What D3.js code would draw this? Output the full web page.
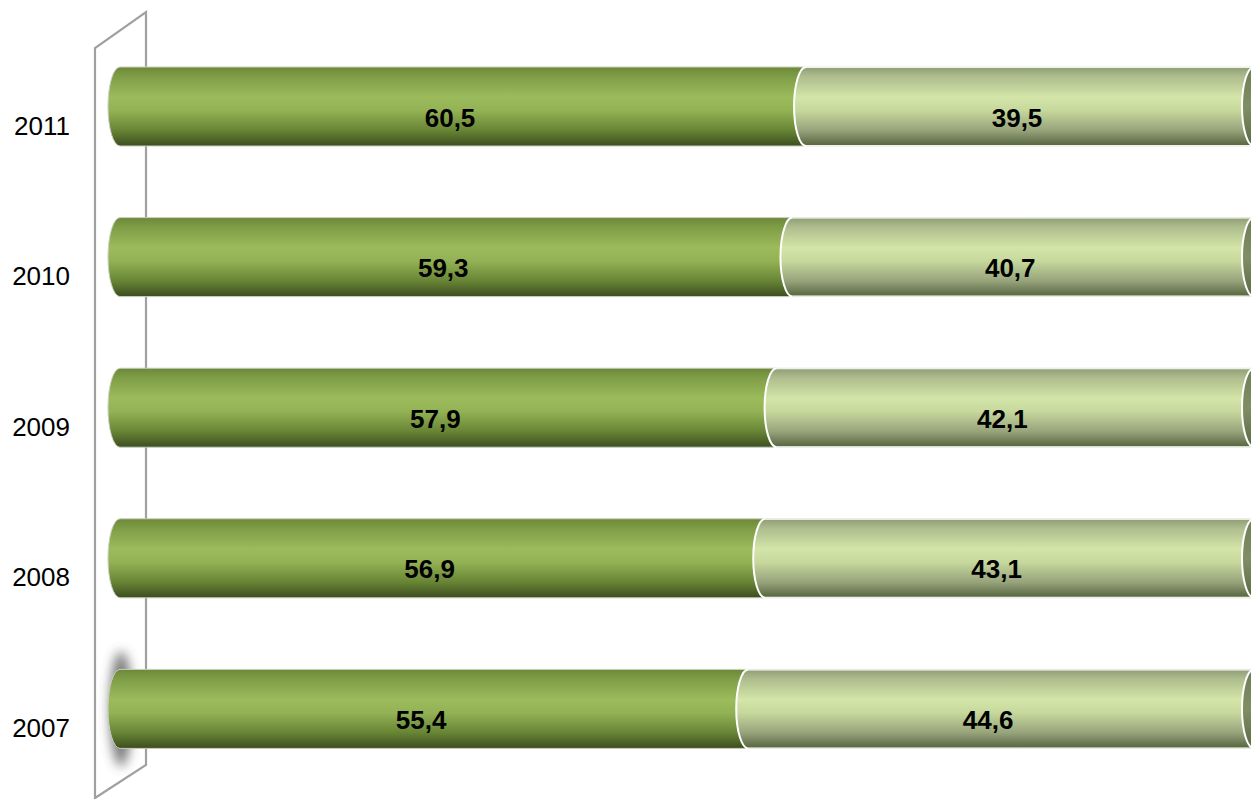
<!DOCTYPE html>
<html><head><meta charset="utf-8">
<script src="https://cdn.jsdelivr.net/npm/d3@7"></script>
<style>html,body{margin:0;padding:0;background:#fff;overflow:hidden}</style>
</head><body>
<svg id="c" width="1251" height="799"></svg>
<script>
const years = ["2011", "2010", "2009", "2008", "2007"];
const seriesA = [60.5, 59.3, 57.9, 56.9, 55.4];
const seriesB = [39.5, 40.7, 42.1, 43.1, 44.6];

const svg = d3.select("#c");
const defs = svg.append("defs");

function grad(id, stops) {
  const g = defs.append("linearGradient").attr("id", id).attr("x1", 0).attr("y1", 0).attr("x2", 0).attr("y2", 1);
  stops.forEach(s => g.append("stop").attr("offset", s[0]).attr("stop-color", s[1]));
}
grad("gA", [[0, "#6c8839"], [0.12, "#7f9d46"], [0.38, "#9cbb5c"], [0.55, "#93b255"], [0.8, "#688535"], [1, "#3c4d20"]]);
grad("gB", [[0, "#8f9c76"], [0.12, "#aebd8d"], [0.38, "#d3e5a8"], [0.55, "#c6d89c"], [0.8, "#97a47c"], [1, "#55633e"]]);
grad("gC", [[0, "#6f7e55"], [0.5, "#7f8f64"], [1, "#5c6a44"]]);
const blur = defs.append("filter").attr("id", "blur").attr("x", "-150%").attr("y", "-50%").attr("width", "400%").attr("height", "200%");
blur.append("feGaussianBlur").attr("stdDeviation", 6);

const x = d3.scaleLinear().domain([0, 100]).range([120, 1254]);
const y = d3.scaleBand().domain(years).range([67, 748.4]).paddingInner(0.4754).paddingOuter(0);
const bw = y.bandwidth();
const rx = 12;

// wall (back plane)
const wall = svg.append("g").attr("fill", "none").attr("stroke", "#a0a0a0").attr("stroke-width", 2.2);
wall.append("path").attr("d", "M95,800 L95,48 L146,12 L146,765 L95,798");

// shadow near bottom bar
svg.append("ellipse").attr("cx", 121).attr("cy", y("2007") + bw / 2).attr("rx", 11).attr("ry", bw / 2 + 18)
  .attr("fill", "#444").attr("opacity", 0.75).attr("filter", "url(#blur)");

function seg(x0, x1, top, h) {
  const b = top + h;
  return `M${x0},${top} L${x1},${top} L${x1},${b} L${x0},${b} A${rx},${h / 2} 0 0 1 ${x0},${top} Z`;
}

const fmt = v => d3.format(".1f")(v).replace(".", ",");
const rows = svg.append("g");
years.forEach((yr, i) => {
  const top = y(yr);
  const a = seriesA[i], bVal = seriesB[i];
  const g = rows.append("g");
  g.append("path").attr("d", seg(x(0), x(a) + 1, top, bw)).attr("fill", "url(#gA)")
    .attr("stroke", "#c9cfbf").attr("stroke-width", 1);
  g.append("path").attr("d", seg(x(a), x(a + bVal) + 1, top, bw)).attr("fill", "url(#gB)")
    .attr("stroke", "#ffffff").attr("stroke-width", 2);
  const xe = x(a + bVal);
  g.append("ellipse").attr("cx", xe).attr("cy", top + bw / 2).attr("rx", rx).attr("ry", bw / 2)
    .attr("fill", "url(#gC)").attr("stroke", "#ffffff").attr("stroke-width", 2);
  g.append("line").attr("x1", x(a)).attr("x2", xe).attr("y1", top).attr("y2", top).attr("stroke", "#e4e8dc").attr("stroke-width", 1);
  g.append("line").attr("x1", x(a)).attr("x2", xe).attr("y1", top + bw).attr("y2", top + bw).attr("stroke", "#e4e8dc").attr("stroke-width", 1);

  g.append("text").attr("x", (x(0) + x(a)) / 2 - 13).attr("y", top + bw / 2 + 20)
    .attr("text-anchor", "middle").attr("font-family", "Liberation Sans, Arial, sans-serif")
    .attr("font-weight", "bold").attr("font-size", 26).attr("fill", "#000").text(fmt(a));
  g.append("text").attr("x", (x(a) + x(a + bVal)) / 2 - 13).attr("y", top + bw / 2 + 20)
    .attr("text-anchor", "middle").attr("font-family", "Liberation Sans, Arial, sans-serif")
    .attr("font-weight", "bold").attr("font-size", 26).attr("fill", "#000").text(fmt(bVal));
});

// year labels
svg.append("g").selectAll("text").data(years).join("text")
  .attr("x", 70).attr("y", d => y(d) + bw / 2 + 28)
  .attr("text-anchor", "end").attr("font-family", "Liberation Sans, Arial, sans-serif")
  .attr("font-size", 26).attr("fill", "#000").text(d => d);
</script>
</body></html>
